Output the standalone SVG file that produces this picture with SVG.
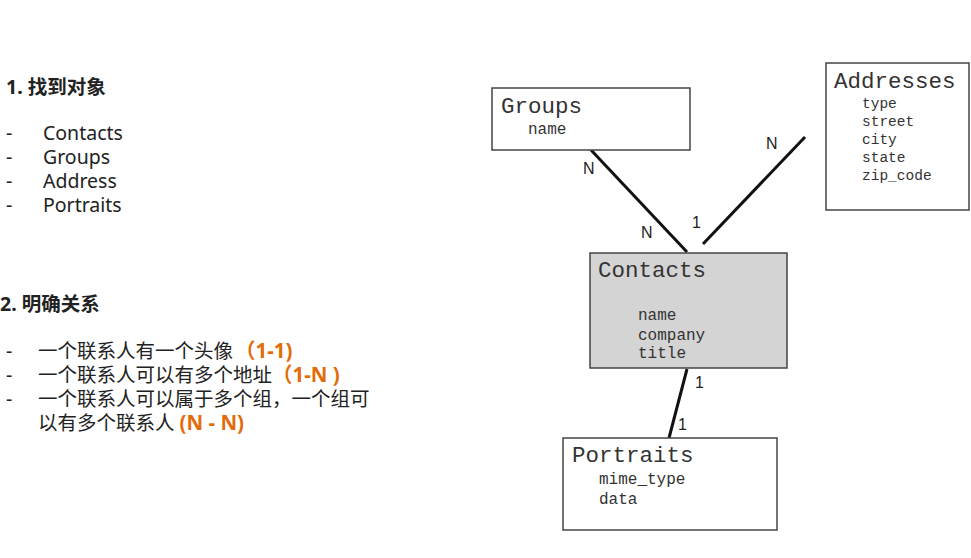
<svg xmlns="http://www.w3.org/2000/svg" width="971" height="558" viewBox="0 0 971 558">
<style>
.h{font-family:"Noto Sans","Noto Sans CJK SC",sans-serif;font-weight:bold;font-size:19.5px;fill:#222}
.t{font-family:"Noto Sans","Noto Sans CJK SC",sans-serif;font-size:19.5px;fill:#222}
.o{fill:#e36c0a;font-weight:bold;font-size:20.5px}
.box{fill:#fff;stroke:#444;stroke-width:1.5}
.title{font-family:"Liberation Mono","DejaVu Sans Mono",monospace;font-size:22.5px;fill:#333}
.f{font-family:"Liberation Mono","DejaVu Sans Mono",monospace;font-size:16px;fill:#333}
.fs{font-family:"Liberation Mono","DejaVu Sans Mono",monospace;font-size:14.5px;fill:#333}
.lab{font-family:"Liberation Sans",Arial,sans-serif;font-size:16px;fill:#222}
.c{stroke:#111;stroke-width:3;fill:none}
</style>
<rect width="971" height="558" fill="#fff"/>
<g id="text-left">
<text class="h" x="6" y="94">1. 找到对象</text>
<text class="t" x="6" y="140">-</text><text class="t" x="43" y="140">Contacts</text>
<text class="t" x="6" y="164">-</text><text class="t" x="43" y="164">Groups</text>
<text class="t" x="6" y="188">-</text><text class="t" x="43" y="188">Address</text>
<text class="t" x="6" y="212">-</text><text class="t" x="43" y="212">Portraits</text>
<text class="h" x="0" y="311">2. 明确关系</text>
<text class="t" x="6" y="358">-</text><text class="t" x="38" y="358">一个联系人有一个头像<tspan class="o" dx="2">（1-1)</tspan></text>
<text class="t" x="6" y="382">-</text><text class="t" x="38" y="382">一个联系人可以有多个地址<tspan class="o">（1-N )</tspan></text>
<text class="t" x="6" y="406">-</text><text class="t" x="38" y="406">一个联系人可以属于多个组，一个组可</text>
<text class="t" x="38" y="430">以有多个联系人 <tspan class="o">(N - N)</tspan></text>
</g>
<g id="connectors">
<line class="c" x1="591" y1="150" x2="687" y2="252"/>
<line class="c" x1="805" y1="137" x2="703" y2="244"/>
<line class="c" x1="687" y1="369" x2="669" y2="438"/>
<text class="lab" x="583" y="174">N</text>
<text class="lab" x="641" y="238">N</text>
<text class="lab" x="692" y="228">1</text>
<text class="lab" x="766" y="149">N</text>
<text class="lab" x="695" y="388">1</text>
<text class="lab" x="678" y="430">1</text>
</g>
<g id="groups">
<rect class="box" x="492" y="88" width="198" height="62"/>
<text class="title" x="501" y="113">Groups</text>
<text class="f" x="528" y="134">name</text>
</g>
<g id="addresses">
<rect class="box" x="826" y="63" width="143" height="147"/>
<text class="title" x="834" y="88">Addresses</text>
<text class="fs" x="862" y="108">type</text>
<text class="fs" x="862" y="126">street</text>
<text class="fs" x="862" y="144">city</text>
<text class="fs" x="862" y="162">state</text>
<text class="fs" x="862" y="180">zip_code</text>
</g>
<g id="contacts">
<rect class="box" x="590" y="253" width="197" height="115" style="fill:#d4d4d4"/>
<text class="title" x="598" y="277">Contacts</text>
<text class="f" x="638" y="320">name</text>
<text class="f" x="638" y="340">company</text>
<text class="f" x="638" y="358">title</text>
</g>
<g id="portraits">
<rect class="box" x="563" y="438" width="214" height="92"/>
<text class="title" x="572" y="462">Portraits</text>
<text class="f" x="599" y="484">mime_type</text>
<text class="f" x="599" y="504">data</text>
</g>
</svg>
